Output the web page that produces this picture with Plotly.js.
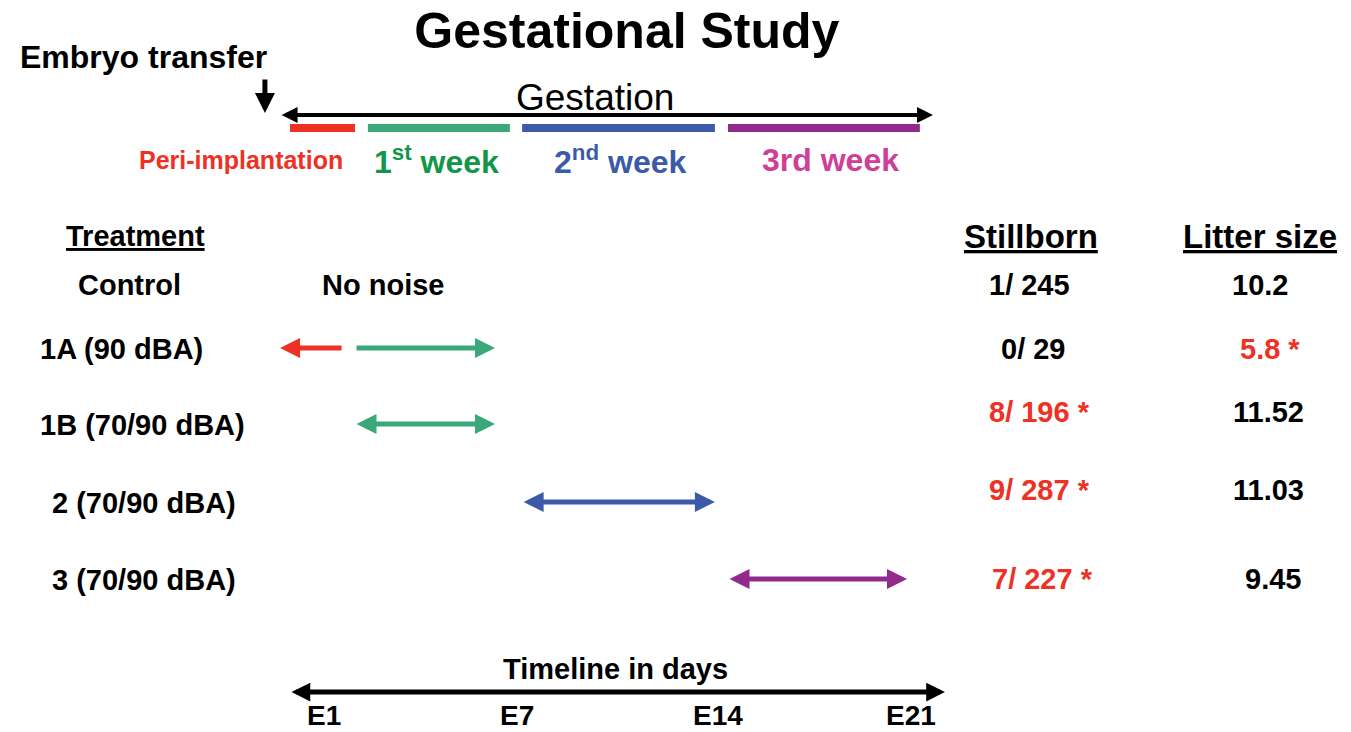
<!DOCTYPE html>
<html>
<head>
<meta charset="utf-8">
<script src="https://cdn.plot.ly/plotly-3.0.1.min.js"></script>
<style>html,body{margin:0;padding:0;background:#fff;}#chart{width:1351px;height:732px;}</style>
</head>
<body>
<div id="chart"></div>
<script>
// ---------- DATA ----------
const treatments = ['Control', '1A (90 dBA)', '1B (70/90 dBA)', '2 (70/90 dBA)', '3 (70/90 dBA)'];
const stillborn = ['1/ 245', '0/ 29', '8/ 196 *', '9/ 287 *', '7/ 227 *'];
const stillbornSignificant = [false, false, true, true, true];
const litterSize = ['10.2', '5.8 *', '11.52', '11.03', '9.45'];
const litterSignificant = [false, true, false, false, false];

const phaseNames = ['Peri-implantation', '1<sup>st</sup> week', '2<sup>nd</sup> week', '3rd week'];
const phaseStartDay = [-0.48, 2.19, 7.48, 14.54];
const phaseEndDay = [1.75, 7.06, 14.09, 21.12];

// noise exposure windows (row index into treatments, start/end day, arrow heads)
const exposureRow = [1, 1, 2, 3, 4];
const exposureStartDay = [-0.82, 1.75, 1.75, 7.48, 14.54];
const exposureEndDay = [1.34, 6.55, 6.55, 14.09, 20.68];
const exposureHeads = ['left', 'right', 'both', 'both', 'both'];
const exposurePhase = [0, 1, 1, 2, 3];

const gestationStartDay = -0.82, gestationEndDay = 21.57;
const embryoTransferDay = -1.34;
const timelineStartDay = -0.48, timelineEndDay = 21.98;
const timelineDays = [1, 7, 14, 21];
const timelineLabels = ['E1', 'E7', 'E14', 'E21'];

// ---------- LAYOUT / STYLE ----------
const FONT = 'Liberation Sans, Arial, Helvetica, sans-serif';
const RED = '#ee3124';
const phaseLineColors = [RED, '#3aa87a', '#3b5ba9', '#922a8e'];
const phaseTextColors = [RED, '#12964a', '#3b5ba9', '#cd3f98'];
const W = 1351;
const L = {
  rowYLeft: [285, 349, 425, 503, 580],
  rowYRight: [285, 349, 412, 490, 579],
  treatXpx: [129, 121, 142, 144, 144],
  stillXpx: [1029, 1033, 1039, 1039, 1042],
  litterXpx: [1260, 1270, 1268, 1268, 1273],
  treatHeaderXpx: 135, stillHeaderXpx: 1031, litterHeaderXpx: 1260,
  headerY: 236, phaseBarY: 128, phaseLabelY: 160,
  phaseLabelDay: [-2.16, 4.56, 10.87, 18.04],
  gestY: 115, gestLabelDay: 9.98, gestLabelY: 97,
  embryoLabelDay: -5.52, embryoLabelY: 57, embryoArrowTop: 78, embryoArrowTip: 113,
  noNoiseDay: 2.71,
  timelineY: 692, timelineLabelY: 669, timelineLabelDay: 10.67, tickLabelBottom: 731.5,
  tickLabelShift: [-9, 9, 6, -5]
};

const traces = phaseStartDay.map((s, i) => ({
  type: 'scatter', mode: 'lines', x: [s, phaseEndDay[i]], y: [L.phaseBarY, L.phaseBarY],
  line: {color: phaseLineColors[i], width: 8}, hoverinfo: 'skip', showlegend: false
}));

function arrow(x0, x1, y0, y1, color, width, size, heads) {
  // heads: 'right' -> head at x1 ; 'left' -> head at x0 ; 'both'
  let hx = x1, hy = y1, tx = x0, ty = y0, side = 'end';
  if (heads === 'left') { hx = x0; hy = y0; tx = x1; ty = y1; }
  if (heads === 'both') side = 'end+start';
  return {x: hx, y: hy, ax: tx, ay: ty, xref: 'x', yref: 'y', axref: 'x', ayref: 'y',
    showarrow: true, text: '', arrowhead: 2, startarrowhead: 2, arrowside: side,
    arrowsize: size, startarrowsize: size, arrowwidth: width, arrowcolor: color,
    standoff: 0, startstandoff: 0};
}
function txt(text, x, y, size, color, xref, extra) {
  return Object.assign({text: text, x: x, y: y, xref: xref || 'x', yref: 'y', showarrow: false,
    xanchor: 'center', yanchor: 'middle', font: {family: FONT, size: size, color: color || '#000'}}, extra || {});
}
const px = v => v / W;

const ann = [];
// top section
ann.push(txt('<b>Embryo transfer</b>', L.embryoLabelDay, L.embryoLabelY, 32));
ann.push(arrow(embryoTransferDay, embryoTransferDay, L.embryoArrowTop, L.embryoArrowTip, '#000', 5, 0.8, 'right'));
ann.push(txt('Gestation', L.gestLabelDay, L.gestLabelY, 37));
ann.push(arrow(gestationStartDay, gestationEndDay, L.gestY, L.gestY, '#000', 4, 0.8, 'both'));
phaseNames.forEach((n, i) => ann.push(txt('<b>' + n + '</b>', L.phaseLabelDay[i], L.phaseLabelY,
  i === 0 ? 25 : 32, phaseTextColors[i])));

// table headers
ann.push(txt('<b><u>Treatment</u></b>', px(L.treatHeaderXpx), L.headerY, 29, '#000', 'paper'));
ann.push(txt('<b><u>Stillborn</u></b>', px(L.stillHeaderXpx), L.headerY, 33, '#000', 'paper'));
ann.push(txt('<b><u>Litter size</u></b>', px(L.litterHeaderXpx), L.headerY, 33, '#000', 'paper'));

treatments.forEach((t, i) => {
  ann.push(txt('<b>' + t + '</b>', px(L.treatXpx[i]), L.rowYLeft[i], 29, '#000', 'paper'));
  ann.push(txt('<b>' + stillborn[i] + '</b>', px(L.stillXpx[i]), L.rowYRight[i], 29,
    stillbornSignificant[i] ? RED : '#000', 'paper'));
  ann.push(txt('<b>' + litterSize[i] + '</b>', px(L.litterXpx[i]), L.rowYRight[i], 29,
    litterSignificant[i] ? RED : '#000', 'paper'));
});
ann.push(txt('<b>No noise</b>', L.noNoiseDay, L.rowYLeft[0], 29));

exposureRow.forEach((r, i) => {
  ann.push(arrow(exposureStartDay[i], exposureEndDay[i], L.rowYLeft[r] - 1, L.rowYLeft[r] - 1,
    phaseLineColors[exposurePhase[i]], 5, 0.8, exposureHeads[i]));
});

// timeline
ann.push(txt('<b>Timeline in days</b>', L.timelineLabelDay, L.timelineLabelY, 29));
ann.push(arrow(timelineStartDay, timelineEndDay, L.timelineY, L.timelineY, '#000', 5, 0.75, 'both'));
timelineDays.forEach((d, i) => ann.push(txt('<b>' + timelineLabels[i] + '</b>', d, L.tickLabelBottom, 28, '#000', 'x',
  {yanchor: 'bottom', xshift: L.tickLabelShift[i], borderpad: 0})));

const layout = {
  width: 1351, height: 732,
  margin: {l: 0, r: 0, t: 0, b: 0},
  paper_bgcolor: '#fff', plot_bgcolor: '#fff',
  title: {text: '<b>Gestational Study</b>', x: 0.464, xanchor: 'center', y: 0.958, yanchor: 'middle',
    yref: 'container', font: {family: FONT, size: 50, color: '#000'}},
  xaxis: {range: [-10.425, 35.905], visible: false, fixedrange: true},
  yaxis: {range: [732, 0], visible: false, fixedrange: true},
  showlegend: false,
  annotations: ann
};
Plotly.newPlot('chart', traces, layout, {staticPlot: true, displayModeBar: false});
</script>
</body>
</html>
